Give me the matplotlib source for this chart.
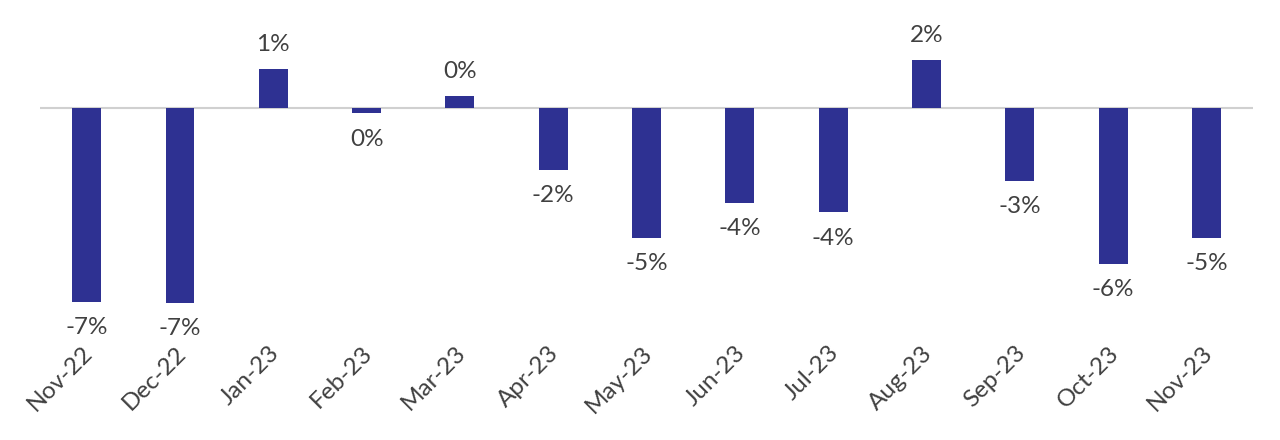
import matplotlib.pyplot as plt
import matplotlib.transforms as mtransforms
import numpy as np

months = ['Nov-22', 'Dec-22', 'Jan-23', 'Feb-23', 'Mar-23', 'Apr-23', 'May-23',
          'Jun-23', 'Jul-23', 'Aug-23', 'Sep-23', 'Oct-23', 'Nov-23']
change = [-7.32, -7.36, 1.47, -0.2, 0.45, -2.34, -4.9,
          -3.58, -3.94, 1.81, -2.75, -5.89, -4.9]

plt.rcParams['font.family'] = ['Lato', 'DejaVu Sans']

fig = plt.figure(figsize=(12.8, 4.4), dpi=100)
ax = fig.add_axes([0.03125, 0.2386, 0.9477, 0.716])

x = np.arange(len(months))
bars = ax.bar(x, change, width=0.31, color='#2E3192', zorder=3)
ax.axhline(0, color='#d0d0d0', linewidth=1.5, zorder=2)

for xi, v in zip(x, change):
    lab = f'{round(v):.0f}%'
    if lab == '-0%':
        lab = '0%'
    if v >= 0:
        ax.annotate(lab, (xi, v), xytext=(0, 10), textcoords='offset points',
                    ha='center', va='bottom', fontsize=17.5, color='#404040')
    else:
        ax.annotate(lab, (xi, v), xytext=(0, -11), textcoords='offset points',
                    ha='center', va='top', fontsize=17.5, color='#404040')

ax.set_xlim(-0.5, len(months) - 0.5)
ax.set_ylim(-8.57, 3.32)
ax.set_xticks(x)
ax.set_xticklabels(months, rotation=45, ha='right', rotation_mode='anchor',
                   fontsize=17.5, color='#404040')
ax.tick_params(axis='x', length=0, pad=3)
shift = mtransforms.ScaledTranslation(-5 / 100, -3 / 100, fig.dpi_scale_trans)
for t in ax.get_xticklabels():
    t.set_transform(t.get_transform() + shift)
ax.set_yticks([])
for s in ax.spines.values():
    s.set_visible(False)

fig.savefig('out.png', dpi=100)
